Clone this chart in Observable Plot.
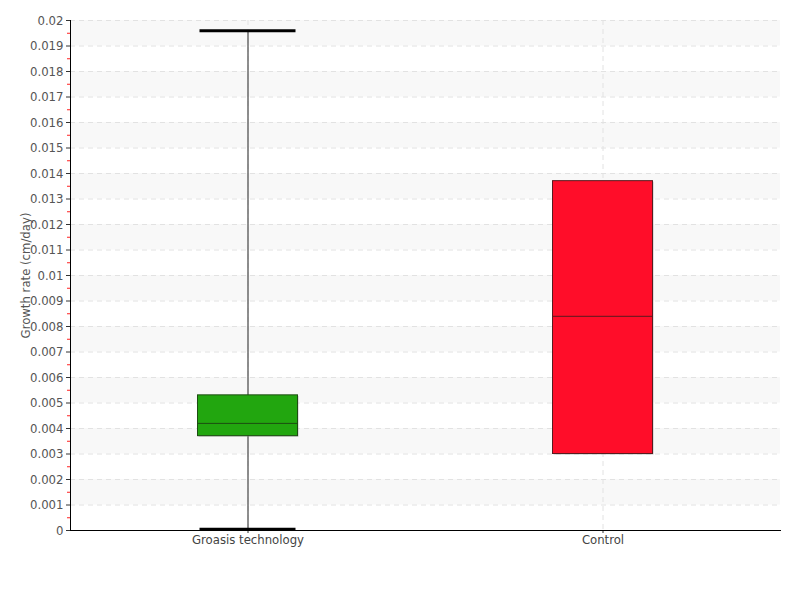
<!DOCTYPE html>
<html><head><meta charset="utf-8">
<script src="https://cdn.jsdelivr.net/npm/d3@7"></script>
<script src="https://cdn.jsdelivr.net/npm/@observablehq/plot@0.6"></script>
<style>
body{margin:0;background:#fff;}
svg{font-family:"DejaVu Sans Condensed","Liberation Sans Narrow","Roboto Condensed",sans-serif;font-stretch:condensed;}
</style></head>
<body><div id="chart"></div>
<script>
const categories = ["Groasis technology", "Control"];
const q1 = [0.0037, 0.0030];
const median = [0.0042, 0.0084];
const q3 = [0.0053, 0.0137];
const whiskerLow = [0.00005, null];
const whiskerHigh = [0.0196, null];
const boxColors = ["#22a60f", "#ff0d29"];
const boxStrokes = ["#1d4d12", "#5a1a1f"];
const yTicks = [0, 0.001, 0.002, 0.003, 0.004, 0.005, 0.006, 0.007, 0.008, 0.009, 0.01, 0.011, 0.012, 0.013, 0.014, 0.015, 0.016, 0.017, 0.018, 0.019, 0.02];
const yMinorTicks = [0.0005, 0.0015, 0.0025, 0.0035, 0.0045, 0.0055, 0.0065, 0.0075, 0.0085, 0.0095, 0.0105, 0.0115, 0.0125, 0.0135, 0.0145, 0.0155, 0.0165, 0.0175, 0.0185, 0.0195];
const bands = [[0.001,0.002],[0.003,0.004],[0.005,0.006],[0.007,0.008],[0.009,0.01],[0.011,0.012],[0.013,0.014],[0.015,0.016],[0.017,0.018],[0.019,0.02]];

const boxes = categories.map((c, i) => ({cat: c, q1: q1[i], med: median[i], q3: q3[i], lo: whiskerLow[i], hi: whiskerHigh[i], fill: boxColors[i], stroke: boxStrokes[i]}));
const whiskers = boxes.filter(d => d.lo != null);
const bandRows = bands.map(([a, b]) => ({a, b}));

const boxInset = 127.5;
const capInset = 129.5;

const chart = Plot.plot({
  width: 800, height: 600,
  marginLeft: 70, marginRight: 20, marginTop: 20, marginBottom: 70,
  style: {fontSize: "13px", color: "#555", background: "#fff"},
  x: {type: "band", domain: categories, padding: 0, label: null},
  y: {domain: [0, 0.02], label: null},
  marks: [
    Plot.rectY(bandRows, {y1: "a", y2: "b", fill: "#f8f8f8"}),
    Plot.ruleY(yTicks, {stroke: "#e2e2e2", strokeDasharray: "5,4"}),
    Plot.ruleX(categories, {x: d => d, stroke: "#e2e2e2", strokeDasharray: "5,4"}),
    Plot.ruleX(whiskers, {x: "cat", y1: "lo", y2: "hi", stroke: "#6a6a6a", strokeWidth: 1.5}),
    Plot.tickY(whiskers, {x: "cat", y: "hi", stroke: "#000", strokeWidth: 3, insetLeft: capInset, insetRight: capInset}),
    Plot.tickY(whiskers, {x: "cat", y: "lo", stroke: "#000", strokeWidth: 3, insetLeft: capInset, insetRight: capInset}),
    Plot.barY(boxes, {x: "cat", y1: "q1", y2: "q3", fill: "#999", insetLeft: boxInset, insetRight: boxInset, dx: 1, dy: 1, opacity: 0.6}),
    Plot.barY(boxes, {x: "cat", y1: "q1", y2: "q3", fill: "fill", stroke: "stroke", strokeWidth: 1, insetLeft: boxInset, insetRight: boxInset}),
    Plot.tickY(boxes, {x: "cat", y: "med", stroke: "stroke", strokeWidth: 1, insetLeft: boxInset, insetRight: boxInset}),
    Plot.axisY({ticks: yMinorTicks, tickFormat: null, text: null, stroke: "#ff2020", strokeOpacity: 1, tickSize: 3, label: null}),
    Plot.axisY({ticks: yTicks, tickFormat: d => String(d), tickSize: 4, stroke: "#333", strokeOpacity: 1, fill: "#555", tickPadding: 3,
      label: "Growth rate (cm/day)", labelAnchor: "center", labelArrow: "none", labelOffset: 50}),
    Plot.axisX({tickSize: 3, stroke: "#333", fill: "#444", tickPadding: 1, label: null}),
    Plot.frame({anchor: "bottom", stroke: "#000", strokeOpacity: 1}),
    Plot.frame({anchor: "left", stroke: "#000", strokeOpacity: 1})
  ]
});
document.getElementById("chart").appendChild(chart);
</script></body></html>
